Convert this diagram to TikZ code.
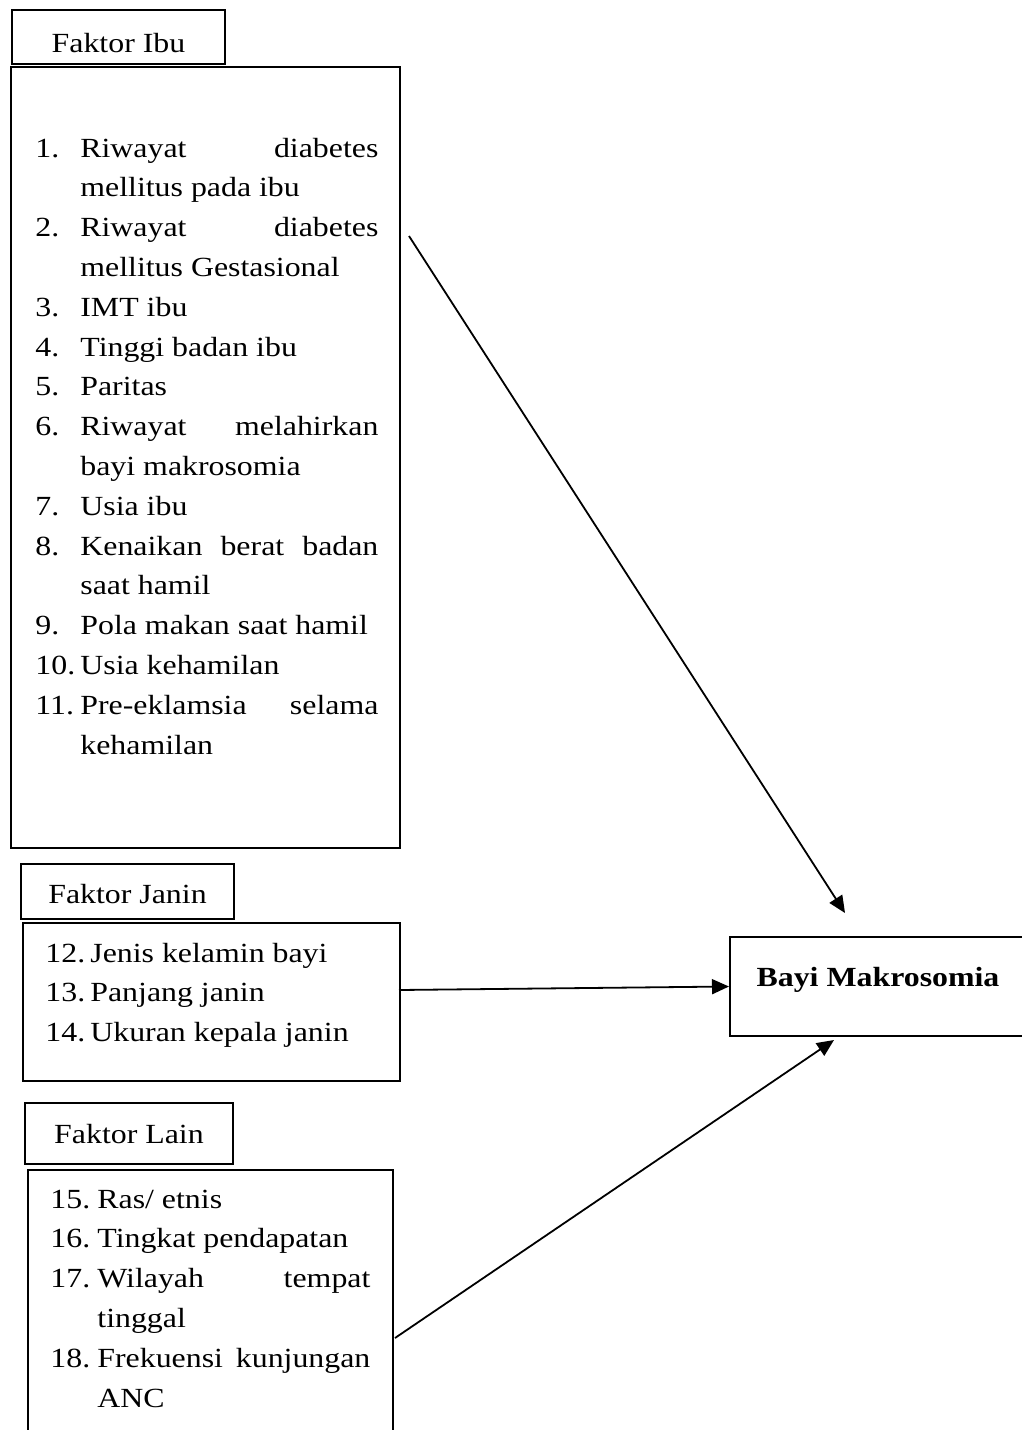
\documentclass[tikz,border=0pt]{standalone}
\usepackage{fontspec}
\setmainfont{Liberation Serif}[FakeStretch=1.15]
\usetikzlibrary{arrows.meta}

\tikzstyle{kotak} = [draw, line width=1pt, inner sep=0pt]
\tikzstyle{judul} = [kotak, text height=12pt, text depth=0pt]
\tikzstyle{daftar} = [inner sep=0pt, anchor=base west, align=justify]
\tikzstyle{arrow} = [line width=0.9pt,-{Triangle[length=8.5pt,width=7.5pt]}]

\newcommand{\hurufku}{\fontsize{13.85pt}{19.9pt}\selectfont}
\newlength{\indenbutir}
\newcommand{\butir}[2]{\noindent\hangindent=\indenbutir\hangafter=1\makebox[\indenbutir][l]{#1}#2\par}

\begin{document}
\begin{tikzpicture}[x=0.5pt,y=-0.5pt,font=\hurufku]
\useasboundingbox (0,0) rectangle (1022,1430);

% Faktor Ibu
\node [judul, text height=15pt, minimum width=106.5pt, minimum height=27pt] (judulIbu) at (118.5,37) {Faktor Ibu};
\node [kotak, anchor=north west, minimum width=194.5pt, minimum height=390.5pt] (ibu) at (10,66) {};
\node [daftar, text width=171.5pt] (isiIbu) at (35,157) {\indenbutir=22.5pt%
\butir{1.}{Riwayat diabetes\linebreak mellitus pada ibu}%
\butir{2.}{Riwayat diabetes\linebreak mellitus Gestasional}%
\butir{3.}{IMT ibu}%
\butir{4.}{Tinggi badan ibu}%
\butir{5.}{Paritas}%
\butir{6.}{Riwayat melahirkan\linebreak bayi makrosomia}%
\butir{7.}{Usia ibu}%
\butir{8.}{Kenaikan berat badan\linebreak saat hamil}%
\butir{9.}{Pola makan saat hamil}%
\butir{10.}{Usia kehamilan}%
\butir{11.}{Pre-eklamsia selama\linebreak kehamilan}};

% Faktor Janin
\node [judul, text height=11.5pt, minimum width=106.5pt, minimum height=27.5pt] (judulJanin) at (127.5,891.5) {Faktor Janin};
\node [kotak, anchor=north west, minimum width=188.5pt, minimum height=79pt] (janin) at (22,922) {};
\node [daftar, text width=160pt] (isiJanin) at (45,962) {\indenbutir=22.5pt%
\butir{12.}{Jenis kelamin bayi}%
\butir{13.}{Panjang janin}%
\butir{14.}{Ukuran kepala janin}};

% Faktor Lain
\node [judul, text height=9.5pt, minimum width=104pt, minimum height=30.5pt] (judulLain) at (129,1133.5) {Faktor Lain};
\node [kotak, anchor=north west, minimum width=182.5pt, minimum height=150pt] (lain) at (27,1169) {};
\node [daftar, text width=160pt] (isiLain) at (50,1208) {\indenbutir=23.5pt%
\butir{15.}{Ras/ etnis}%
\butir{16.}{Tingkat pendapatan}%
\butir{17.}{Wilayah tempat\linebreak tinggal}%
\butir{18.}{Frekuensi kunjungan\linebreak ANC}};

% Bayi Makrosomia
\node [kotak, font=\hurufku\bfseries, text height=6pt, text depth=6pt, minimum width=148pt, minimum height=49.5pt] (bayi) at (878,986.5) {Bayi Makrosomia};

% Arrows
\coordinate (dariIbu) at (409,236);
\coordinate (keBayiAtas) at (845,913);
\coordinate (dariJanin) at (399,990);
\coordinate (dariLain) at (395,1338);
\coordinate (keBayiBawah) at (834,1040);
\draw [arrow] (dariIbu) -- (keBayiAtas);
\draw [arrow] (dariJanin) -- (bayi.west);
\draw [arrow] (dariLain) -- (keBayiBawah);

\end{tikzpicture}
\end{document}
